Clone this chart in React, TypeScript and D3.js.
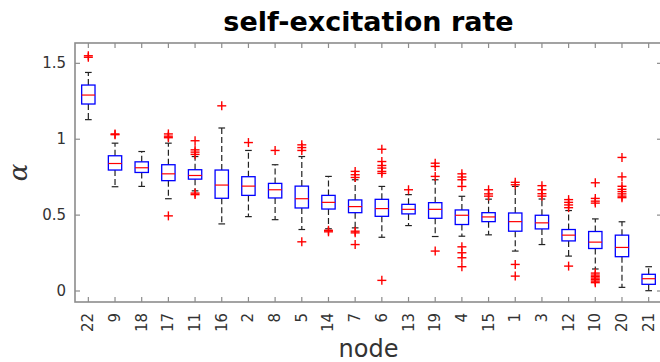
import React from "react";
import * as d3 from "d3";

// Node order along the x axis (sorted by median rate)
const nodeLabels = ["22", "9", "18", "17", "11", "16", "2", "8", "5", "14", "7", "6", "13", "19", "4", "15", "1", "3", "12", "10", "20", "21"];

// Box statistics per node
const medians = [1.291, 0.84, 0.812, 0.772, 0.761, 0.698, 0.691, 0.667, 0.608, 0.584, 0.556, 0.543, 0.538, 0.538, 0.499, 0.488, 0.457, 0.449, 0.368, 0.322, 0.287, 0.081];
const q1s = [1.232, 0.797, 0.781, 0.727, 0.737, 0.611, 0.63, 0.613, 0.547, 0.54, 0.516, 0.492, 0.508, 0.479, 0.438, 0.457, 0.394, 0.409, 0.33, 0.28, 0.226, 0.044];
const q3s = [1.357, 0.891, 0.851, 0.832, 0.799, 0.797, 0.753, 0.709, 0.691, 0.63, 0.6, 0.604, 0.571, 0.582, 0.534, 0.516, 0.514, 0.499, 0.405, 0.392, 0.368, 0.11];
const lowWhiskers = [1.129, 0.687, 0.689, 0.608, 0.66, 0.442, 0.49, 0.47, 0.405, 0.41, 0.416, 0.354, 0.431, 0.359, 0.361, 0.37, 0.263, 0.306, 0.23, 0.145, 0.024, 0.002];
const highWhiskers = [1.44, 0.974, 0.919, 0.974, 0.886, 1.074, 0.926, 0.832, 0.886, 0.755, 0.733, 0.689, 0.635, 0.733, 0.624, 0.605, 0.689, 0.606, 0.53, 0.475, 0.456, 0.16];
const outliers = [
  [1.55, 1.54],
  [1.035, 1.03],
  [],
  [1.035, 1.02, 1.01, 0.495],
  [0.99, 0.93, 0.915, 0.9, 0.645, 0.635],
  [1.22],
  [0.978],
  [0.926],
  [0.963, 0.945, 0.926, 0.324],
  [0.4, 0.39],
  [0.788, 0.766, 0.748, 0.394, 0.383, 0.306],
  [0.934, 0.853, 0.827, 0.81, 0.788, 0.775, 0.07],
  [0.667],
  [0.842, 0.821, 0.755, 0.263],
  [0.772, 0.751, 0.733, 0.689, 0.291, 0.252, 0.219, 0.16],
  [0.667, 0.64, 0.625],
  [0.716, 0.7, 0.175, 0.098],
  [0.694, 0.667, 0.641, 0.625],
  [0.602, 0.584, 0.567, 0.549, 0.164],
  [0.713, 0.61, 0.592, 0.579, 0.118, 0.105, 0.095, 0.085, 0.075, 0.065, 0.055],
  [0.88, 0.752, 0.69, 0.67, 0.655, 0.64, 0.625, 0.615],
  [],
];

const yTicks = [0, 0.5, 1, 1.5];
const yTickLabels = ["0", "0.5", "1", "1.5"];

const W = 660;
const H = 362;
const axL = 75;
const axR = 662;
const axT = 43;
const axB = 302;
const FONT = "'DejaVu Sans', sans-serif";
const AXIS_COLOR = "#8c8c8c";
const TEXT_COLOR = "#333333";

export default function App() {
  const x = d3.scaleLinear().domain([0.5, nodeLabels.length + 0.5]).range([axL, axR]);
  const y = d3.scaleLinear().domain([-0.0725, 1.634]).range([axB, axT]);
  const step = x(2) - x(1);
  const boxW = step * 0.5;
  const capW = step * 0.25;
  const tickLen = 5;
  const plus = 4.5;

  return (
    <svg width={W} height={H} style={{ position: "absolute", left: 0, top: 0, background: "#fff" }}>
      <rect x={0} y={0} width={W} height={H} fill="#fff" />
      <text x={(axL + axR) / 2} y={31} textAnchor="middle" fontFamily={FONT} fontWeight="bold" fontSize={27} fill="#000">
        self-excitation rate
      </text>

      {/* boxes */}
      {nodeLabels.map((lab, i) => {
        const cx = x(i + 1);
        return (
          <g key={lab}>
            <line x1={cx} x2={cx} y1={y(q3s[i])} y2={y(highWhiskers[i])} stroke="#222" strokeWidth={1.2} strokeDasharray="6,3" />
            <line x1={cx} x2={cx} y1={y(q1s[i])} y2={y(lowWhiskers[i])} stroke="#222" strokeWidth={1.2} strokeDasharray="6,3" />
            <line x1={cx - capW / 2} x2={cx + capW / 2} y1={y(highWhiskers[i])} y2={y(highWhiskers[i])} stroke="#222" strokeWidth={1.2} />
            <line x1={cx - capW / 2} x2={cx + capW / 2} y1={y(lowWhiskers[i])} y2={y(lowWhiskers[i])} stroke="#222" strokeWidth={1.2} />
            <rect x={cx - boxW / 2} y={y(q3s[i])} width={boxW} height={y(q1s[i]) - y(q3s[i])} fill="none" stroke="#0000ff" strokeWidth={1.3} />
            <line x1={cx - boxW / 2} x2={cx + boxW / 2} y1={y(medians[i])} y2={y(medians[i])} stroke="#ff0000" strokeWidth={1.2} />
            {outliers[i].map((v, k) => (
              <g key={k} stroke="#ff0000" strokeWidth={1.4}>
                <line x1={cx - plus} x2={cx + plus} y1={y(v)} y2={y(v)} />
                <line x1={cx} x2={cx} y1={y(v) - plus} y2={y(v) + plus} />
              </g>
            ))}
          </g>
        );
      })}

      {/* axes box with inward ticks */}
      <rect x={axL} y={axT} width={axR - axL} height={axB - axT} fill="none" stroke={AXIS_COLOR} strokeWidth={1.6} />
      {nodeLabels.map((lab, i) => (
        <g key={"xt" + lab}>
          <line x1={x(i + 1)} x2={x(i + 1)} y1={axB} y2={axB - tickLen} stroke={AXIS_COLOR} strokeWidth={1.2} />
          <line x1={x(i + 1)} x2={x(i + 1)} y1={axT} y2={axT + tickLen} stroke={AXIS_COLOR} strokeWidth={1.2} />
          <text
            transform={`translate(${x(i + 1) + 5},${axB + 11}) rotate(-90)`}
            textAnchor="end"
            fontFamily={FONT}
            fontSize={15}
            fill={TEXT_COLOR}
          >
            {lab}
          </text>
        </g>
      ))}
      {yTicks.map((t, i) => (
        <g key={"yt" + t}>
          <line x1={axL} x2={axL + tickLen} y1={y(t)} y2={y(t)} stroke={AXIS_COLOR} strokeWidth={1.2} />
          <line x1={axR} x2={axR - tickLen} y1={y(t)} y2={y(t)} stroke={AXIS_COLOR} strokeWidth={1.2} />
          <text x={axL - 9} y={y(t) + 5} textAnchor="end" fontFamily={FONT} fontSize={15} fill={TEXT_COLOR}>
            {yTickLabels[i]}
          </text>
        </g>
      ))}

      <text x={(axL + axR) / 2} y={357} textAnchor="middle" fontFamily={FONT} fontSize={24} fill={TEXT_COLOR}>
        node
      </text>
      <text
        transform={`translate(27,${(axT + axB) / 2}) rotate(-90)`}
        textAnchor="middle"
        fontFamily="'DejaVu Serif', serif"
        fontStyle="italic"
        fontSize={26}
        fill={TEXT_COLOR}
      >
        α
      </text>
    </svg>
  );
}
